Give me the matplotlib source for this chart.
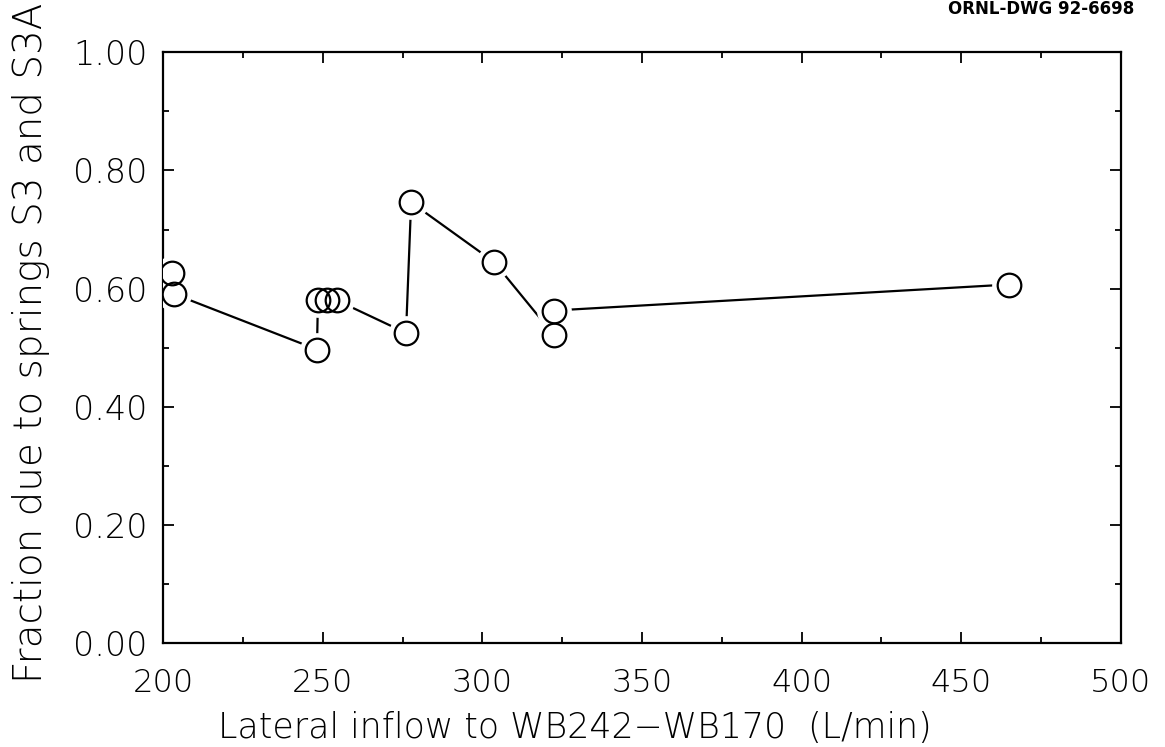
import matplotlib
matplotlib.use("Agg")
import matplotlib.pyplot as plt
from matplotlib.ticker import MultipleLocator, FormatStrFormatter

# Data (plotted in drawing order)
inflow = [202.8, 203.4, 248.2, 248.5, 251.4, 254.5, 276.1, 277.7, 303.7, 322.5, 322.5, 465.0]
fraction = [0.626, 0.591, 0.497, 0.580, 0.580, 0.580, 0.525, 0.746, 0.645, 0.521, 0.563, 0.607]

x_ticks = [200, 250, 300, 350, 400, 450, 500]
y_ticks = [0.0, 0.2, 0.4, 0.6, 0.8, 1.0]

plt.rcParams['font.family'] = ['DejaVu Sans']

fig = plt.figure(figsize=(11.65, 7.47), dpi=100)
ax = fig.add_axes([0.140, 0.139, 0.822, 0.791])

ax.plot(inflow, fraction, color='black', lw=1.6, zorder=2)
ax.plot(inflow, fraction, ls='none', marker='o', ms=25, mfc='white', mec='white',
        mew=0, zorder=3)
ax.plot(inflow, fraction, ls='none', marker='o', ms=17, mfc='none', mec='black',
        mew=1.6, zorder=4)

ax.set_xlim(200, 500)
ax.set_ylim(0, 1.0)
ax.set_xticks(x_ticks)
ax.set_yticks(y_ticks)
ax.xaxis.set_minor_locator(MultipleLocator(25))
ax.yaxis.set_minor_locator(MultipleLocator(0.1))
ax.yaxis.set_major_formatter(FormatStrFormatter('%.2f'))

ax.tick_params(which='both', direction='in', top=True, right=True, width=1.3,
               colors='black')
ax.tick_params(which='major', length=8)
ax.tick_params(which='minor', length=4)
ax.tick_params(axis='x', pad=18, labelsize=23)
ax.tick_params(axis='y', pad=11, labelsize=24)
for lab in ax.get_xticklabels() + ax.get_yticklabels():
    lab.set_fontweight('light')

for s in ax.spines.values():
    s.set_linewidth(1.6)

ax.set_xlabel('Lateral inflow to WB242\u2212WB170  (L/min)', fontsize=25,
              fontweight='light')
ax.xaxis.set_label_coords(0.43, -0.115)
ax.set_ylabel('Fraction due to springs S3 and S3A', fontsize=28,
              fontweight='light')
ax.yaxis.set_label_coords(-0.118, 0.508)

fig.text(0.894, 1.0, 'ORNL-DWG 92-6698', fontsize=12, fontweight='bold',
         ha='center', va='top')

fig.savefig('out.png', dpi=100)
